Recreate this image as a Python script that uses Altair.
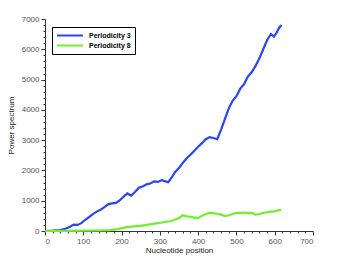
import altair as alt
import pandas as pd

blue_x = [0, 20, 40, 55, 65, 75, 85, 95, 105, 115, 125, 135, 145, 155, 165, 175, 185, 195,
          205, 215, 225, 235, 245, 255, 265, 275, 285, 295, 305, 315, 322, 330, 340, 350,
          360, 370, 380, 390, 400, 410, 420, 430, 440, 450, 460, 470, 480, 490, 500, 510,
          520, 530, 540, 550, 560, 570, 580, 590, 598, 605, 612, 618]
blue_y = [0, 10, 30, 80, 140, 210, 200, 260, 370, 460, 560, 640, 700, 790, 880, 910, 930, 1010,
          1130, 1240, 1170, 1290, 1430, 1470, 1540, 1570, 1640, 1620, 1680, 1640, 1610, 1750, 1950, 2080,
          2250, 2400, 2520, 2650, 2780, 2900, 3030, 3100, 3070, 3030, 3350, 3700, 4050, 4300, 4450, 4700,
          4850, 5100, 5250, 5450, 5700, 6000, 6300, 6500, 6420, 6550, 6720, 6800]

green_x = [0, 50, 100, 150, 170, 190, 210, 230, 250, 270, 290, 310, 330, 350, 360, 370, 380,
           390, 400, 410, 420, 430, 440, 450, 460, 470, 480, 490, 500, 510, 520, 530, 540,
           550, 560, 570, 580, 590, 600, 610, 617]
green_y = [0, 5, 10, 20, 30, 60, 120, 150, 170, 210, 250, 290, 330, 430, 520, 480, 470,
           440, 430, 500, 560, 600, 590, 570, 540, 490, 520, 560, 600, 600, 610, 590, 600,
           540, 560, 600, 620, 640, 650, 690, 700]

series = ["Periodicity 3", "Periodicity 8"]
colors = ["#2b45f5", "#6ef02a"]

df = pd.concat([
    pd.DataFrame({"x": blue_x, "y": blue_y, "s": series[0]}),
    pd.DataFrame({"x": green_x, "y": green_y, "s": series[1]}),
])

x_major = list(range(0, 701, 100))
x_minor = [v for v in range(0, 701, 20) if v % 100 != 0]
y_major = list(range(0, 7001, 1000))
y_minor = [v for v in range(0, 7001, 200) if v % 1000 != 0]

font = "Liberation Sans"
xs = alt.Scale(domain=[0, 700], nice=False)
ys = alt.Scale(domain=[0, 7000], nice=False)

lines = alt.Chart(df).mark_line(strokeWidth=2.2).encode(
    x=alt.X("x:Q", scale=xs, axis=alt.Axis(orient="bottom", values=x_major, title="Nucleotide position", format="d",
            tickSize=4, labelFontSize=8, titleFontSize=8, labelColor="#555", titleColor="#222",
            titleFontWeight="normal", titleFont=font, labelFont=font, domainColor="#333",
            tickColor="#333", grid=False, titlePadding=1, labelPadding=2)),
    y=alt.Y("y:Q", scale=ys, axis=alt.Axis(orient="left", values=y_major, title="Power spectrum", format="d",
            tickSize=4, labelFontSize=8, titleFontSize=8, labelColor="#555", titleColor="#222",
            titleFontWeight="normal", titleFont=font, labelFont=font, domainColor="#333",
            tickColor="#333", grid=False, titlePadding=6, labelPadding=2)),
    color=alt.Color("s:N", scale=alt.Scale(domain=series, range=colors),
                    legend=alt.Legend(title=None, orient="none", legendX=7, legendY=8,
                                      strokeColor="black", fillColor="white", padding=4,
                                      symbolType="stroke", symbolSize=676, symbolStrokeWidth=2,
                                      clipHeight=9, labelFontSize=7, labelFontWeight="bold",
                                      labelFont=font, labelColor="black", rowPadding=1,
                                      symbolOffset=0, labelOffset=5)),
)

minor_df = pd.DataFrame({"x": [0], "y": [0]})
minor = alt.Chart(minor_df).mark_point(opacity=0).encode(
    x=alt.X("x:Q", scale=xs, axis=alt.Axis(orient="bottom", values=x_minor, labels=False, title=None,
            tickSize=2, domain=False, grid=False, tickColor="#333")),
    y=alt.Y("y:Q", scale=ys, axis=alt.Axis(orient="left", values=y_minor, labels=False, title=None,
            tickSize=2, domain=False, grid=False, tickColor="#333")),
)

chart = alt.layer(lines, minor).resolve_axis(x="independent", y="independent").properties(
    width=268, height=212, autosize="none",
    padding={"left": 37, "top": 11, "right": 25, "bottom": 30},
).configure_view(stroke=None).configure_axis(tickWidth=1, domainWidth=1)

chart.save("out.html", embed_options={"renderer": "svg", "actions": False})
